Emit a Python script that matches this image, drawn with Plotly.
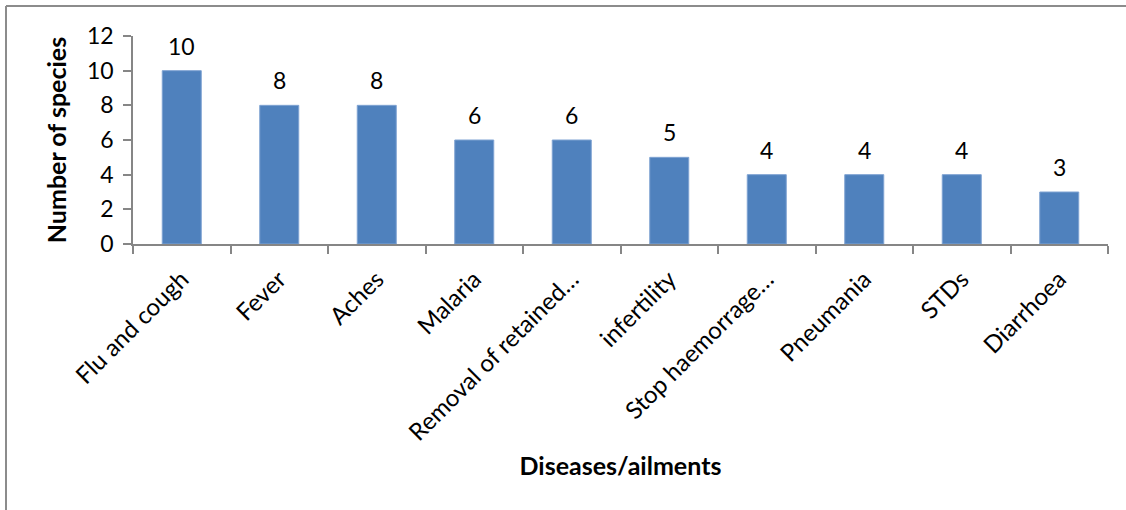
import plotly.graph_objects as go

categories = ["Flu and cough", "Fever", "Aches", "Malaria", "Removal of retained…",
              "infertility", "Stop haemorrage…", "Pneumania", "STDs", "Diarrhoea"]
values = [10, 8, 8, 6, 6, 5, 4, 4, 4, 3]
y_ticks = [0, 2, 4, 6, 8, 10, 12]

FONT = "Lato"
AXIS_COLOR = "#868686"

fig = go.Figure()
fig.add_trace(go.Bar(
    x=categories, y=values,
    marker=dict(color="#4F81BD", line=dict(color="#7FA3D2", width=1)),
    showlegend=False, hoverinfo="x+y",
))

annotations = [
    dict(x=c, y=v, xref="x", yref="y", text=str(v), showarrow=False,
         yanchor="middle", yshift=25, font=dict(family=FONT, size=23, color="#000000"))
    for c, v in zip(categories, values)
]

L, R, T, B = 133, 18, 36, 266
W, H = 1126, 510
pw, ph = W - L - R, H - T - B

fig.update_layout(
    width=W, height=H,
    margin=dict(l=L, r=R, t=T, b=B, autoexpand=False),
    paper_bgcolor="white", plot_bgcolor="white",
    bargap=0.6,
    font=dict(family=FONT, size=22, color="#000000"),
    annotations=annotations,
    shapes=[
        dict(type="line", xref="paper", yref="paper",
             x0=(6 - L) / pw, x1=(6 - L) / pw, y0=1 + (T - 6) / ph, y1=-(B + 20) / ph,
             line=dict(color="#8C8C8C", width=2)),
        dict(type="line", xref="paper", yref="paper",
             x0=(6 - L) / pw, x1=(W + 20 - L) / pw, y0=1 + (T - 6) / ph, y1=1 + (T - 6) / ph,
             line=dict(color="#8C8C8C", width=2)),
    ],
)

fig.update_xaxes(
    type="category",
    tickangle=-45,
    tickson="boundaries",
    ticks="outside", ticklen=8, tickcolor=AXIS_COLOR, tickwidth=1.5,
    showline=True, linecolor=AXIS_COLOR, linewidth=1.5,
    showgrid=False, automargin=False,
    ticklabelstandoff=10,
    tickfont=dict(family=FONT, size=24, color="#000000"),
    title=dict(text="<b>Diseases/ailments</b>", standoff=13,
               font=dict(family=FONT, size=25, color="#000000")),
)
fig.update_yaxes(
    range=[0, 12], tickvals=y_ticks,
    ticks="outside", ticklen=8, tickcolor=AXIS_COLOR, tickwidth=1.5,
    showline=True, linecolor=AXIS_COLOR, linewidth=1.5,
    showgrid=False, zeroline=False, automargin=False,
    ticklabelstandoff=5,
    tickfont=dict(family=FONT, size=23, color="#000000"),
    title=dict(text="<b>Number of species</b>", standoff=13,
               font=dict(family=FONT, size=25, color="#000000")),
)

fig.write_html("out.html")
